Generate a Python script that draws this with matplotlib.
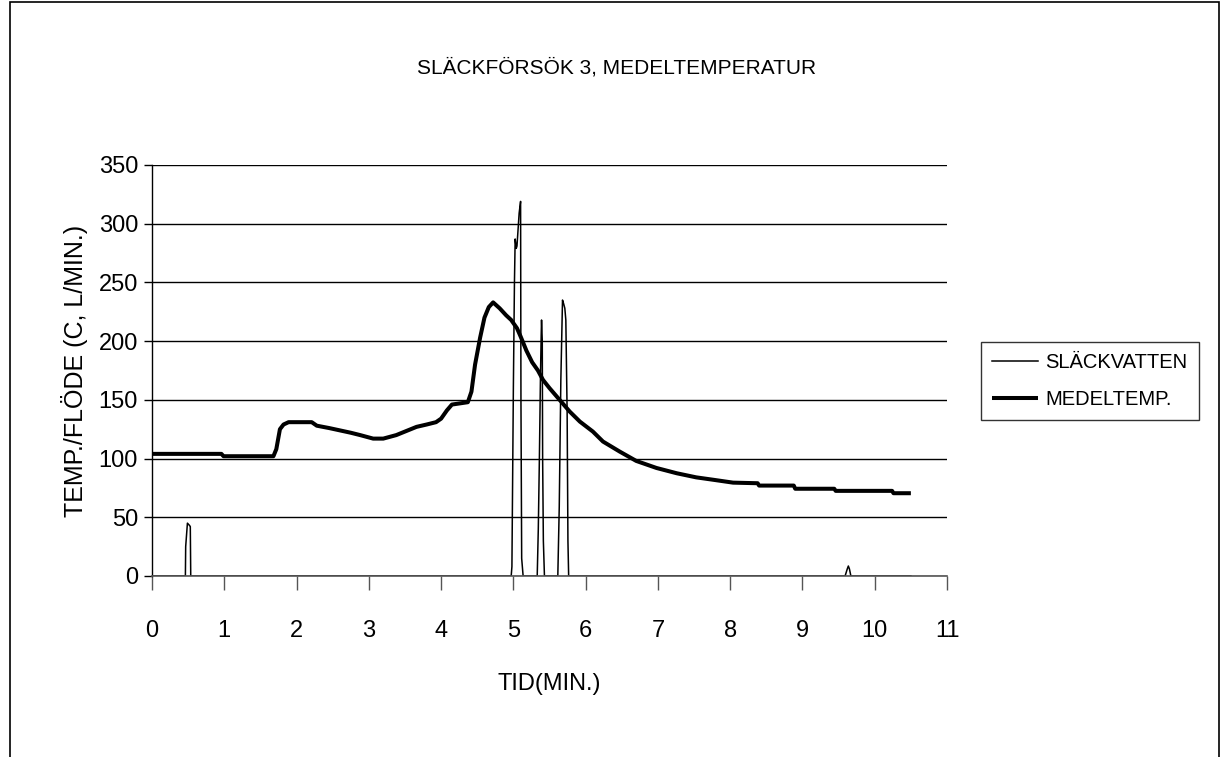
import matplotlib
matplotlib.use("Agg")
import matplotlib.pyplot as plt
from matplotlib import font_manager
from matplotlib.patches import Rectangle

# Font: narrow sans if available
_names = {f.name for f in font_manager.fontManager.ttflist}
FONT = "Liberation Sans Narrow" if "Liberation Sans Narrow" in _names else "Liberation Sans"
plt.rcParams["font.family"] = [FONT, "DejaVu Sans"]

TITLE = "SLÄCKFÖRSÖK 3, MEDELTEMPERATUR"
XLABEL = "TID(MIN.)"
YLABEL = "TEMP./FLÖDE (C, L/MIN.)"
SERIES_NAMES = ["SLÄCKVATTEN", "MEDELTEMP."]

x_ticks = list(range(0, 12))
y_ticks = list(range(0, 351, 50))

# Extinguishing water flow (L/min) vs time (min)
vatten_t = [0.0, 0.462, 0.466, 0.49, 0.52, 0.53, 0.536,
            4.97, 4.98, 5.0, 5.015, 5.025, 5.04, 5.05, 5.08, 5.10, 5.105, 5.115, 5.135,
            5.33, 5.345, 5.36, 5.375, 5.385, 5.39, 5.40, 5.405, 5.415, 5.43,
            5.615, 5.635, 5.657, 5.68, 5.695, 5.712, 5.726, 5.744, 5.755, 5.765,
            9.59, 9.62, 9.635, 9.65, 9.67, 10.5]
vatten_v = [0, 0, 25, 45, 43, 42, 0,
            0, 8, 160, 250, 287, 279, 281, 309, 319, 150, 15, 0,
            0, 40, 100, 170, 205, 218, 200, 100, 30, 0,
            0, 59, 167, 235, 232, 228, 218, 139, 30, 0,
            0, 6, 8.5, 6, 0, 0]

# Mean temperature (C) vs time (min)
medel_t = [0.0, 0.96, 0.99, 1.68, 1.72, 1.77, 1.82, 1.89, 2.21, 2.28, 2.45, 2.60,
           2.75, 2.88, 3.0, 3.06, 3.2, 3.38, 3.5, 3.66, 3.8, 3.93, 4.0, 4.08, 4.15,
           4.37, 4.42, 4.47, 4.54, 4.60, 4.66, 4.72, 4.81, 4.90, 4.97, 5.05, 5.10,
           5.18, 5.26, 5.34, 5.41, 5.50, 5.64, 5.78, 5.92, 6.10, 6.24, 6.47, 6.70,
           6.98, 7.26, 7.53, 7.76, 8.04, 8.38, 8.40, 8.88, 8.90, 9.44, 9.46, 10.24,
           10.26, 10.5]
medel_v = [104, 104, 102, 102, 108, 125, 129, 131, 131, 128, 126, 124,
           122, 120, 118, 117, 117, 120, 123, 127, 129, 131, 134, 141, 146,
           148, 157, 180, 203, 220, 229, 233, 228, 222, 218, 211, 204,
           192, 182, 175, 167, 160, 150, 140, 131.5, 123, 114.5, 106, 98,
           92, 87.5, 84, 82, 79.5, 79, 77, 77, 74.3, 74.3, 72.5, 72.5,
           70.5, 70.5]

fig = plt.figure(figsize=(12.21, 7.57), dpi=100)
fig.patch.set_facecolor("white")

# Outer chart border
fig.add_artist(Rectangle((10 / 1221, -0.05), (1219 - 10) / 1221, 1.05 - 2 / 757,
                         transform=fig.transFigure, fill=False,
                         edgecolor="black", linewidth=1.2))

ax = fig.add_axes([152 / 1221, 1 - 576 / 757, (947 - 152) / 1221, (576 - 165) / 757])
ax.set_xlim(0, 11)
ax.set_ylim(0, 350)
ax.set_xticks(x_ticks)
ax.set_yticks(y_ticks)
ax.yaxis.grid(True, color="black", linewidth=1.0)
ax.set_axisbelow(True)
for s in ("top", "right"):
    ax.spines[s].set_visible(False)
ax.spines["left"].set_color("black")
ax.spines["bottom"].set_color("#555555")
ax.spines["left"].set_linewidth(1.0)
ax.spines["bottom"].set_linewidth(1.2)

ax.tick_params(axis="x", direction="out", length=10, width=1, color="#555555",
               labelsize=17, pad=22)
ax.tick_params(axis="y", direction="out", length=6, width=1, color="black",
               labelsize=17, pad=4)

ax.plot(vatten_t, vatten_v, color="black", linewidth=1.1, label=SERIES_NAMES[0],
        solid_joinstyle="round")
ax.plot(medel_t, medel_v, color="black", linewidth=2.9, label=SERIES_NAMES[1],
        solid_joinstyle="round", solid_capstyle="butt")

ax.set_xlabel(XLABEL, fontsize=17, labelpad=22)
ax.set_ylabel(YLABEL, fontsize=18, labelpad=8)

fig.text(0.505, 1 - 68 / 757, TITLE, ha="center", va="center", fontsize=15)

leg = ax.legend(loc="center left", bbox_to_anchor=(981 / 1221, 1 - 381 / 757),
                bbox_transform=fig.transFigure, frameon=True, fancybox=False,
                fontsize=14.5, handlelength=2.3, handletextpad=0.35,
                borderpad=0.55, labelspacing=0.9, borderaxespad=0)
leg.get_frame().set_edgecolor("black")
leg.get_frame().set_linewidth(1.0)

fig.savefig("out.png", dpi=100, facecolor="white")
